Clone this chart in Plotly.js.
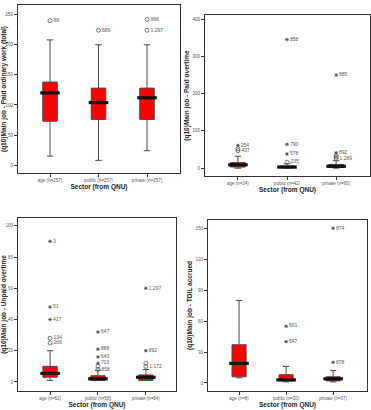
<!DOCTYPE html>
<html>
<head>
<meta charset="utf-8">
<script src="https://cdn.plot.ly/plotly-3.0.1.min.js"></script>
<style>
  html, body { margin: 0; padding: 0; background: #fff; }
  #chart { width: 371px; height: 410px; }
</style>
</head>
<body>
<div id="chart"></div>
<script>
// Sector groups and per-panel category labels
const sectors = ['age', 'public', 'private'];

// Panel 1: paid ordinary work (total)
const ordinaryTicks = ['age (n=257)', 'public (n=157)', 'private (n=257)'];
const ordinaryQ1 = [73, 76, 76];
const ordinaryMedian = [120, 104, 112];
const ordinaryQ3 = [138, 128, 128];
const ordinaryLow = [15, 8, 24];
const ordinaryHigh = [208, 200, 200];
const ordinaryOutSector = ['age', 'public', 'private', 'private'];
const ordinaryOutValue = [240, 224, 242, 224];
const ordinaryOutKind = ['mild', 'mild', 'mild', 'mild'];
const ordinaryOutLabel = ['89', '589', '966', '1,297'];

// Panel 2: paid overtime
const paidTicks = ['age (n=24)', 'public (n=42)', 'private (n=60)'];
const paidQ1 = [3, 1, 2];
const paidMedian = [9, 3, 5];
const paidQ3 = [15, 6, 10];
const paidLow = [0, 0, 0];
const paidHigh = [32, 12, 20];
const paidOutSector = ['age', 'age', 'age', 'public', 'public', 'public', 'public', 'private', 'private', 'private', 'private', 'private'];
const paidOutValue = [61, 52, 47, 16, 38, 64, 345, 26, 30, 34, 41, 250];
const paidOutKind = ['extreme', 'mild', 'mild', 'mild', 'extreme', 'extreme', 'extreme', 'mild', 'mild', 'mild', 'extreme', 'extreme'];
const paidOutLabel = ['254', '', '437', '235', '578', '790', '858', '1,289', '', '', '892', '885'];

// Panel 3: unpaid overtime
const unpaidTicks = ['age (n=62)', 'public (n=58)', 'private (n=64)'];
const unpaidQ1 = [3, 1, 1];
const unpaidMedian = [5.5, 2, 3];
const unpaidQ3 = [10, 4, 4.5];
const unpaidLow = [1, 1, 1];
const unpaidHigh = [20, 7.5, 8];
const unpaidOutSector = ['age', 'age', 'age', 'age', 'age', 'public', 'public', 'public', 'public', 'public', 'public', 'private', 'private', 'private', 'private'];
const unpaidOutValue = [25, 28, 40, 48, 90, 8, 10, 12, 16, 21, 32, 10, 12, 20, 60];
const unpaidOutKind = ['mild', 'mild', 'extreme', 'extreme', 'extreme', 'mild', 'mild', 'extreme', 'extreme', 'extreme', 'extreme', 'mild', 'mild', 'extreme', 'extreme'];
const unpaidOutLabel = ['266', '134', '417', '51', '3', '858', '', '703', '640', '888', '647', '1,172', '', '892', '1,297'];

// Panel 4: TOIL accrued
const toilTicks = ['age (n=8)', 'public (n=30)', 'private (n=37)'];
const toilQ1 = [6, 2, 2];
const toilMedian = [19, 3, 4];
const toilQ3 = [37, 8, 6];
const toilLow = [5, 1, 1];
const toilHigh = [80, 16, 12];
const toilOutSector = ['public', 'public', 'private', 'private'];
const toilOutValue = [40, 55, 20, 150];
const toilOutKind = ['extreme', 'extreme', 'extreme', 'extreme'];
const toilOutLabel = ['647', '501', '878', '874'];

const FONT = 'Liberation Sans, Arial, sans-serif';
const W = 371, H = 410;

function panelTraces(n, ticks, q1, med, q3, lo, hi, outSector, outValue, outKind, outLabel) {
  const xa = n === 1 ? 'x' : 'x' + n;
  const ya = n === 1 ? 'y' : 'y' + n;
  const traces = [];
  traces.push({
    type: 'box', xaxis: xa, yaxis: ya,
    x: ticks, q1: q1, median: med, q3: q3, lowerfence: lo, upperfence: hi,
    fillcolor: '#ff0000', line: { color: '#4a4a4a', width: 1 },
    width: 0.3, whiskerwidth: 0.45, boxpoints: false, hoverinfo: 'skip', showlegend: false
  });
  // heavy median bar
  traces.push({
    type: 'scatter', mode: 'markers', xaxis: xa, yaxis: ya,
    x: ticks, y: med,
    marker: { symbol: 'line-ew', size: 14, line: { color: '#111', width: 3.2 } },
    hoverinfo: 'skip', showlegend: false
  });
  ['mild', 'extreme'].forEach(kind => {
    const xs = [], ys = [], ts = [];
    outValue.forEach((v, i) => {
      if (outKind[i] !== kind) return;
      xs.push(ticks[sectors.indexOf(outSector[i])]);
      ys.push(v);
      ts.push(outLabel[i]);
    });
    if (!xs.length) return;
    traces.push({
      type: 'scatter', mode: 'markers+text', xaxis: xa, yaxis: ya,
      x: xs, y: ys, text: ts, textposition: 'middle right',
      textfont: { family: FONT, size: 5, color: '#555' },
      marker: kind === 'mild'
        ? { symbol: 'circle-open', size: 4, color: '#555', line: { width: 0.8 } }
        : { symbol: 'asterisk-open', size: 3, color: '#444', line: { color: '#444', width: 0.8 } },
      hoverinfo: 'skip', showlegend: false
    });
  });
  return traces;
}

function dom(a, b, size, flip) {
  return flip ? [1 - b / size, 1 - a / size] : [a / size, b / size];
}

function xAxis(d, range, anchor) {
  return {
    domain: d, range: range, anchor: anchor, type: 'category',
    showline: true, mirror: true, linecolor: '#333', linewidth: 1,
    ticks: 'outside', ticklen: 3, tickcolor: '#333', showgrid: false, zeroline: false,
    tickfont: { family: FONT, size: 4.5, color: '#555' },
    title: { text: 'Sector (from QNU)', standoff: 1, font: { family: FONT, size: 6.5, color: '#222', weight: 'bold' } }
  };
}
function yAxis(d, range, dtick, anchor, title) {
  return {
    domain: d, range: range, anchor: anchor, dtick: dtick,
    showline: true, mirror: true, linecolor: '#333', linewidth: 1,
    ticks: 'outside', ticklen: 3, tickcolor: '#333', showgrid: false, zeroline: false,
    tickfont: { family: FONT, size: 4.5, color: '#555' },
    title: { text: title, standoff: 2, font: { family: FONT, size: 6.5, color: '#222', weight: 'bold' } }
  };
}

const data = [].concat(
  panelTraces(1, ordinaryTicks, ordinaryQ1, ordinaryMedian, ordinaryQ3, ordinaryLow, ordinaryHigh, ordinaryOutSector, ordinaryOutValue, ordinaryOutKind, ordinaryOutLabel),
  panelTraces(2, paidTicks, paidQ1, paidMedian, paidQ3, paidLow, paidHigh, paidOutSector, paidOutValue, paidOutKind, paidOutLabel),
  panelTraces(3, unpaidTicks, unpaidQ1, unpaidMedian, unpaidQ3, unpaidLow, unpaidHigh, unpaidOutSector, unpaidOutValue, unpaidOutKind, unpaidOutLabel),
  panelTraces(4, toilTicks, toilQ1, toilMedian, toilQ3, toilLow, toilHigh, toilOutSector, toilOutValue, toilOutKind, toilOutLabel)
);

const layout = {
  width: W, height: H,
  margin: { l: 0, r: 0, t: 0, b: 0 },
  paper_bgcolor: '#fff', plot_bgcolor: '#fff',
  showlegend: false,
  font: { family: FONT },
  xaxis:  xAxis(dom(18, 180, W), [-0.66, 2.68], 'y'),
  yaxis:  yAxis(dom(5, 173, H, true), [-13, 266], 50, 'x', '(q10)Main job - Paid ordinary work (total)'),
  xaxis2: xAxis(dom(205, 370, W), [-0.67, 2.69], 'y2'),
  yaxis2: yAxis(dom(15, 176, H, true), [-21, 411], 100, 'x2', '(q10)Main job - Paid overtime'),
  xaxis3: xAxis(dom(18, 176, W), [-0.67, 2.63], 'y3'),
  yaxis3: yAxis(dom(218, 391, H, true), [-5.8, 105], 20, 'x3', '(q10)Main job - Unpaid overtime'),
  xaxis4: xAxis(dom(208, 367, W), [-0.66, 2.72], 'y4'),
  yaxis4: yAxis(dom(220, 391, H, true), [-7.8, 158], 30, 'x4', '(q10)Main job - TOIL accrued')
};

Plotly.newPlot('chart', data, layout, { displayModeBar: false, staticPlot: true });
</script>
</body>
</html>
